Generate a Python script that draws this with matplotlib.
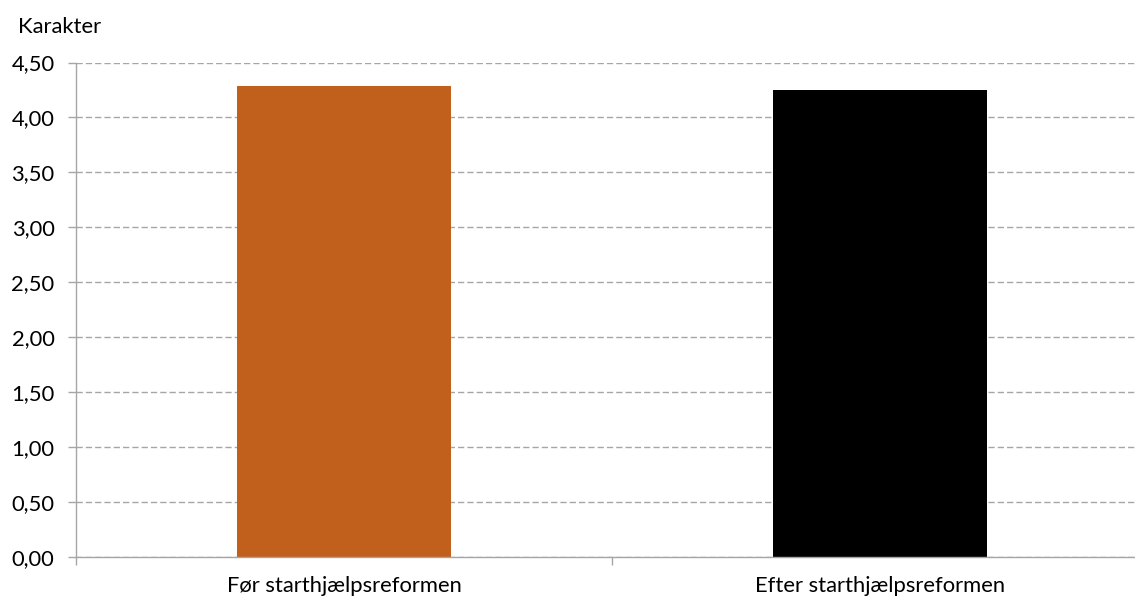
import numpy as np
import matplotlib
matplotlib.use("Agg")
import matplotlib.pyplot as plt
from matplotlib.ticker import FixedLocator, FuncFormatter

# --- DATA ---
categories = ["Før starthjælpsreformen", "Efter starthjælpsreformen"]
values = [4.29, 4.25]
bar_colors = ["#C0601C", "#000000"]
y_ticks = [0.0, 0.5, 1.0, 1.5, 2.0, 2.5, 3.0, 3.5, 4.0, 4.5]
y_label = "Karakter"

# --- STYLE ---
plt.rcParams["font.family"] = ["Lato", "DejaVu Sans"]
plt.rcParams["font.size"] = 15.8
GREY = "#A6A6A6"

fig = plt.figure(figsize=(11.35, 5.99), dpi=100)
# axes goes a little past the right edge, as in the cropped original
ax = fig.add_axes([76 / 1135, 42 / 599, 1072 / 1135, 494.5 / 599])

x = np.arange(len(categories))
ax.bar(x, values, width=0.4, color=bar_colors, zorder=3)

ax.set_xlim(-0.5, len(categories) - 0.5)
ax.set_ylim(0, 4.5)
ax.set_yticks(y_ticks)
ax.yaxis.set_major_formatter(FuncFormatter(lambda v, p: f"{v:.2f}".replace(".", ",")))

ax.set_xticks(x)
ax.set_xticklabels(categories)
ax.xaxis.set_minor_locator(FixedLocator(np.arange(-0.5, len(categories), 1.0)))
ax.tick_params(axis="x", which="major", length=0, pad=14)
ax.tick_params(axis="x", which="minor", length=6, color=GREY, width=1)
ax.tick_params(axis="y", length=6, color=GREY, width=1, pad=9.5)

ax.grid(axis="y", color=GREY, linestyle=(0, (4.5, 2.2)), linewidth=1, zorder=0)

for side in ["top", "right"]:
    ax.spines[side].set_visible(False)
for side in ["left", "bottom"]:
    ax.spines[side].set_color(GREY)
    ax.spines[side].set_linewidth(1)
    ax.spines[side].set_zorder(4)

fig.text(18 / 1135, 1 - 27 / 599, y_label, ha="left", va="center", fontsize=15.8)

fig.savefig("out.png", dpi=100)
